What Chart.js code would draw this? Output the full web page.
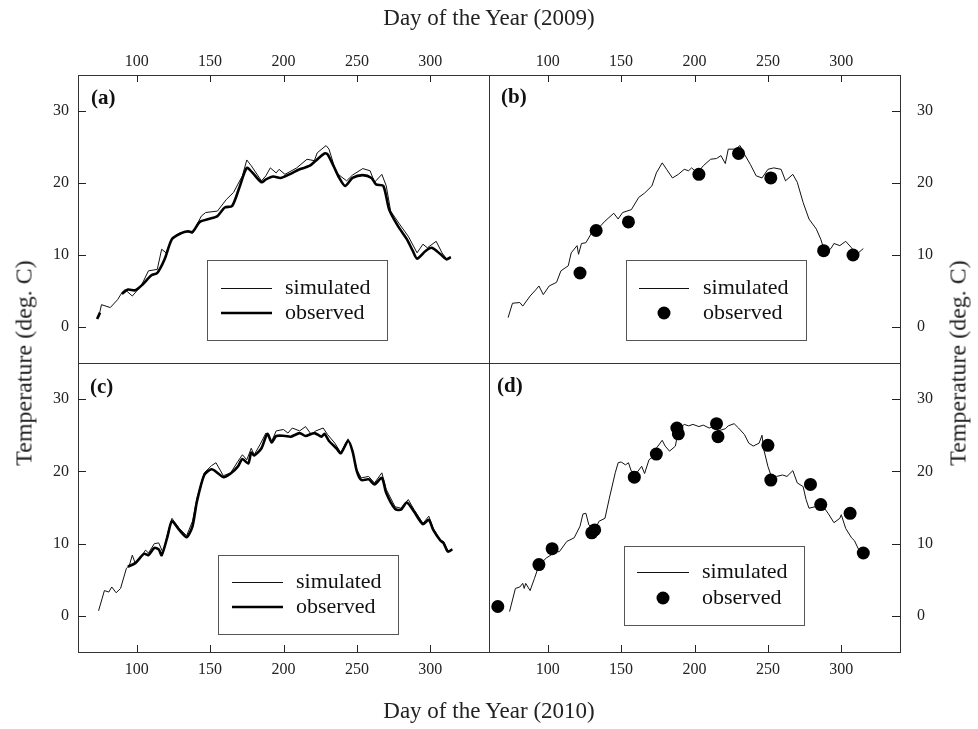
<!DOCTYPE html>
<html lang="en">
<head>
<meta charset="UTF-8">
<title>Simulated and observed temperature, 2009 and 2010</title>
<script src="https://cdn.jsdelivr.net/npm/chart.js"></script>
<style>
    body {
        margin: 0;
        background: #fff;
        font-family: "Liberation Serif", "Times New Roman", serif;
        color: #222;
    }
    #wrap {
        position: relative;
        width: 978px;
        height: 729px;
    }
    #wrap canvas {
        position: absolute;
        left: 0;
        top: 0;
    }
    .title {
        position: absolute;
        font-size: 23px;
        white-space: nowrap;
        transform: translate(-50%, -50%);
    }
    .title.vert {
        font-size: 24px;
        transform: translate(-50%, -50%) rotate(-90deg);
    }
</style>
</head>
<body>

<div id="wrap">
    <canvas id="pa" width="978" height="729"></canvas>
    <canvas id="pb" width="978" height="729"></canvas>
    <canvas id="pc" width="978" height="729"></canvas>
    <canvas id="pd" width="978" height="729"></canvas>
    <div class="title" style="left:489px; top:18px;">Day of the Year (2009)</div>
    <div class="title" style="left:489px; top:711px;">Day of the Year (2010)</div>
    <div class="title vert" style="left:24px; top:363px;">Temperature (deg. C)</div>
    <div class="title vert" style="left:958px; top:363px;">Temperature (deg. C)</div>
</div>

<script>
    // ticks shared by every panel
    const xTicks = [100, 150, 200, 250, 300];
    const yTicks = [0, 10, 20, 30];

    // (a) 2009, daily mean temperature
    const simA_day = [74, 76, 82, 87, 90, 92, 97, 103, 108, 114, 117, 120, 124, 129, 133, 138, 144, 147, 155, 161, 166, 172, 175, 178, 185, 188, 191, 195, 197, 201, 209, 216, 221, 223, 229, 231, 236, 243, 247, 254, 259, 262, 267, 270, 273, 279, 285, 291, 295, 298, 304, 308, 311, 314];
    const simA_t = [1.3, 3.1, 2.7, 3.8, 4.8, 5.2, 4.3, 5.7, 7.8, 8.0, 10.8, 10.3, 12.2, 13.0, 13.3, 13.0, 15.4, 15.9, 16.1, 17.7, 18.7, 21.0, 23.2, 22.4, 20.3, 21.0, 22.1, 21.4, 21.9, 21.2, 22.1, 23.3, 23.1, 24.2, 25.2, 24.7, 21.4, 20.3, 21.1, 22.0, 21.7, 20.1, 21.2, 19.6, 16.1, 14.3, 12.6, 10.3, 11.5, 11.0, 11.9, 10.3, 9.5, 9.7];
    const obsA_day = [73, 75, 83, 90, 94, 99, 104, 110, 114, 119, 124, 130, 135, 138, 143, 149, 155, 160, 165, 170, 175, 179, 185, 188, 193, 198, 204, 211, 218, 222, 228, 230, 234, 238, 242, 247, 254, 260, 263, 268, 272, 278, 284, 288, 291, 297, 301, 307, 311, 314];
    const obsA_t = [1.1, 2.0, null, 4.6, 5.2, 5.1, 5.9, 7.2, 7.5, 9.4, 12.2, 13.0, 13.3, 13.2, 14.6, 15.0, 15.4, 16.6, 16.8, 19.4, 22.1, 21.4, 20.1, 20.5, 20.9, 20.7, 21.2, 21.9, 22.4, 23.1, 24.1, 24.0, 22.4, 20.7, 19.6, 20.7, 21.1, 20.7, 19.8, 19.6, 16.3, 14.0, 12.2, 10.6, 9.5, 10.6, 11.0, 10.1, 9.4, 9.7];

    // (b) 2009, daily maximum temperature against spot readings
    const simB_day = [73, 76, 81, 83, 88, 92, 94, 97, 101, 106, 109, 114, 116, 120, 121, 123, 126, 130, 134, 139, 145, 148, 151, 157, 162, 166, 171, 174, 178, 181, 185, 189, 193, 196, 198, 202, 206, 211, 215, 218, 221, 223, 228, 231, 234, 238, 242, 246, 250, 254, 259, 262, 267, 270, 274, 278, 283, 286, 289, 293, 295, 299, 303, 307, 310, 315];
    const simB_t = [1.3, 3.3, 3.4, 2.9, 4.3, 5.2, 5.7, 4.5, 5.7, 6.2, 7.8, 8.5, 10.3, 11.3, 10.1, 11.6, 11.7, 13.1, 13.6, 14.7, 15.8, 15.0, 15.9, 16.3, 18.0, 18.6, 19.6, 21.4, 22.8, 21.9, 20.7, 21.2, 21.9, 21.7, 22.1, 21.4, 22.4, 23.3, 23.4, 23.8, 22.7, 24.7, 24.7, 25.2, 24.0, 22.6, 21.0, 20.7, 21.9, 22.1, 21.9, 20.3, 21.2, 20.1, 17.3, 15.0, 13.6, 12.2, 10.3, 10.9, 11.6, 11.3, 11.9, 11.0, 10.0, 10.9];
    const obsB_day = [122, 133, 155, 203, 230, 252, 288, 308];
    const obsB_t = [7.5, 13.4, 14.6, 21.2, 24.1, 20.7, 10.6, 10.0];

    // (c) 2010, daily mean temperature
    const simC_day = [74, 78, 81, 83, 86, 89, 93, 95, 97, 99, 103, 106, 108, 112, 115, 118, 121, 124, 129, 134, 138, 141, 146, 151, 154, 159, 164, 169, 172, 175, 178, 180, 184, 188, 192, 195, 200, 203, 206, 211, 215, 219, 222, 227, 230, 235, 239, 244, 246, 250, 253, 258, 262, 267, 270, 276, 280, 285, 289, 295, 299, 302, 307, 309, 312, 315];
    const simC_t = [0.7, 3.5, 3.3, 4.0, 3.2, 3.8, 6.6, 7.0, 8.4, 7.3, 8.2, 9.1, 8.7, 10.0, 10.1, 8.7, 11.4, 13.5, 12.1, 11.1, 13.1, 16.3, 19.8, 20.8, 21.2, 19.4, 19.8, 21.4, 22.3, 21.6, 23.2, 22.3, 23.7, 25.3, 24.2, 25.6, 25.8, 25.3, 26.0, 25.6, 26.2, 25.1, 25.6, 26.0, 25.1, 23.9, 22.6, 24.5, 23.5, 20.2, 19.1, 19.3, 18.4, 19.8, 17.5, 15.1, 14.9, 16.1, 14.7, 12.8, 13.8, 12.1, 10.5, 10.3, 9.0, 9.2];
    const obsC_day = [94, 99, 105, 108, 112, 115, 117, 121, 124, 129, 134, 138, 141, 146, 151, 155, 159, 164, 169, 172, 176, 178, 180, 185, 189, 192, 195, 201, 205, 211, 215, 221, 226, 228, 231, 236, 239, 244, 247, 250, 253, 258, 262, 267, 270, 276, 280, 284, 289, 295, 299, 302, 307, 309, 312, 315];
    const obsC_t = [6.8, 7.3, 8.6, 8.4, 9.4, 9.2, 8.4, 11.0, 13.1, 11.9, 10.9, 12.4, 15.8, 19.5, 20.3, 19.8, 19.2, 19.7, 20.7, 21.7, 21.1, 22.6, 22.2, 23.2, 25.2, 24.0, 24.9, 24.9, 24.8, 25.3, 24.9, 25.3, 24.8, 25.2, 24.2, 23.2, 22.5, 24.2, 22.8, 20.0, 18.8, 18.9, 18.2, 19.1, 17.0, 14.8, 14.7, 15.7, 14.4, 12.7, 13.3, 11.9, 10.4, 10.1, 8.9, 9.2];

    // (d) 2010, daily maximum temperature against spot readings
    const simD_day = [74, 78, 81, 83, 84, 85, 88, 91, 94, 99, 105, 108, 113, 118, 122, 124, 126, 128, 132, 135, 139, 142, 146, 148, 150, 153, 155, 157, 161, 164, 166, 169, 172, 174, 178, 180, 183, 187, 189, 193, 196, 199, 203, 206, 210, 213, 216, 221, 223, 227, 230, 234, 237, 240, 244, 246, 247, 250, 252, 256, 260, 263, 267, 270, 274, 276, 278, 282, 286, 291, 295, 299, 300, 303, 307, 309, 312];
    const simD_t = [0.6, 3.8, 4.0, 4.5, 3.8, 4.5, 3.5, 5.2, 7.0, 8.0, 8.8, 8.9, 10.3, 10.8, 12.4, 14.1, 14.2, 12.6, 11.9, 13.1, 13.5, 16.3, 19.8, 21.2, 21.3, 20.9, 21.2, 20.0, 19.9, 20.7, 19.7, 21.6, 22.1, 23.2, 24.3, 23.5, 22.8, 23.5, 25.8, 26.5, 26.3, 26.5, 26.2, 26.4, 26.0, 26.2, 25.6, 25.9, 26.3, 26.6, 26.0, 25.1, 23.9, 23.5, 23.9, 25.0, 23.2, 20.7, 19.5, 19.3, 19.5, 19.3, 20.1, 18.4, 17.9, 16.1, 14.9, 15.1, 15.6, 14.2, 12.9, 13.5, 14.0, 12.1, 10.8, 10.4, 9.1];
    const obsD_day = [66, 94, 103, 130, 132, 159, 174, 188, 189, 215, 216, 250, 252, 279, 286, 306, 315];
    const obsD_t = [1.3, 7.1, 9.3, 11.5, 11.9, 19.2, 22.4, 26.0, 25.2, 26.6, 24.8, 23.6, 18.8, 18.2, 15.4, 14.2, 8.7];

    const FONT = '"Liberation Serif", "Times New Roman", serif';
    const CW = 978, CH = 729;

    function pts(days, temps) {
        return days.map((d, i) => ({ x: d, y: temps[i] }));
    }

    function simulated(days, temps) {
        return {
            label: 'simulated', data: pts(days, temps),
            borderColor: '#111', borderWidth: 1, pointRadius: 0, tension: 0
        };
    }
    function observedLine(days, temps) {
        return {
            label: 'observed', data: pts(days, temps),
            borderColor: '#000', borderWidth: 2.6, pointRadius: 0, tension: 0.25, spanGaps: false
        };
    }
    function observedDots(days, temps) {
        return {
            label: 'observed', data: pts(days, temps), showLine: false,
            pointRadius: 6.5, pointBackgroundColor: '#000', pointBorderWidth: 0
        };
    }

    // frame, inward tick marks, panel letter and boxed legend
    const decor = {
        id: 'decor',
        afterDraw(chart, args, o) {
            const ctx = chart.ctx;
            const a = chart.chartArea;
            const sx = chart.scales.x, sy = chart.scales.y;
            ctx.save();
            ctx.strokeStyle = '#333';
            ctx.lineWidth = 1;
            ctx.strokeRect(a.left + 0.5, a.top + 0.5, a.right - a.left, a.bottom - a.top);

            ctx.strokeStyle = '#222';
            ctx.beginPath();
            o.tickSides.forEach(side => {
                if (side === 'top' || side === 'bottom') {
                    xTicks.forEach(v => {
                        const px = Math.round(sx.getPixelForValue(v)) + 0.5;
                        const y0 = side === 'top' ? a.top : a.bottom;
                        const dy = side === 'top' ? 7 : -7;
                        ctx.moveTo(px, y0); ctx.lineTo(px, y0 + dy);
                    });
                } else {
                    yTicks.forEach(v => {
                        const py = Math.round(sy.getPixelForValue(v)) + 0.5;
                        const x0 = side === 'left' ? a.left : a.right;
                        const dx = side === 'left' ? 8 : -8;
                        ctx.moveTo(x0, py); ctx.lineTo(x0 + dx, py);
                    });
                }
            });
            ctx.stroke();

            ctx.fillStyle = '#111';
            ctx.font = 'bold 21px ' + FONT;
            ctx.textBaseline = 'middle';
            ctx.textAlign = 'left';
            ctx.fillText(o.letter, a.left + o.letterAt[0], a.top + o.letterAt[1]);

            const L = o.legend;
            const bx = a.left + L.box[0], by = a.top + L.box[1];
            ctx.strokeStyle = '#555';
            ctx.strokeRect(Math.round(bx) + 0.5, Math.round(by) + 0.5, L.box[2], L.box[3]);

            const sim = chart.data.datasets[1], obs = chart.data.datasets[0];
            const r1 = a.top + L.rows[0], r2 = a.top + L.rows[1];
            ctx.strokeStyle = sim.borderColor;
            ctx.lineWidth = sim.borderWidth;
            ctx.beginPath();
            ctx.moveTo(a.left + L.sample[0], r1 + 0.5); ctx.lineTo(a.left + L.sample[1], r1 + 0.5);
            ctx.stroke();
            if (obs.showLine === false) {
                ctx.fillStyle = obs.pointBackgroundColor;
                ctx.beginPath();
                ctx.arc(a.left + (L.sample[0] + L.sample[1]) / 2, r2, obs.pointRadius, 0, Math.PI * 2);
                ctx.fill();
            } else {
                ctx.strokeStyle = obs.borderColor;
                ctx.lineWidth = obs.borderWidth;
                ctx.beginPath();
                ctx.moveTo(a.left + L.sample[0], r2); ctx.lineTo(a.left + L.sample[1], r2);
                ctx.stroke();
            }
            ctx.fillStyle = '#111';
            ctx.font = '22px ' + FONT;
            ctx.fillText(sim.label, a.left + L.text, r1);
            ctx.fillText(obs.label, a.left + L.text, r2);
            ctx.restore();
        }
    };

    function panel(id, area, xPos, yPos, datasets, deco) {
        const xH = 30, yW = 40;
        const padding = {
            left: area.left - (yPos === 'left' ? yW : 0),
            right: CW - area.right - (yPos === 'right' ? yW : 0),
            top: area.top - (xPos === 'top' ? xH : 0),
            bottom: CH - area.bottom - (xPos === 'bottom' ? xH : 0)
        };
        const tickFont = { family: FONT, size: 16 };
        return new Chart(document.getElementById(id), {
            type: 'line',
            data: { datasets: datasets },
            options: {
                responsive: false,
                animation: false,
                devicePixelRatio: 1,
                events: [],
                layout: { padding: padding },
                scales: {
                    x: {
                        type: 'linear', position: xPos, min: 60, max: 340,
                        afterBuildTicks: s => { s.ticks = xTicks.map(v => ({ value: v })); },
                        afterFit: s => { s.height = xH; },
                        grid: { display: false, drawTicks: false },
                        border: { display: false },
                        ticks: { font: tickFont, color: '#222', padding: xPos === 'top' ? 4 : 8, maxRotation: 0 }
                    },
                    y: {
                        type: 'linear', position: yPos, min: -5, max: 35,
                        afterBuildTicks: s => { s.ticks = yTicks.map(v => ({ value: v })); },
                        afterFit: s => { s.width = yW; },
                        grid: { display: false, drawTicks: false },
                        border: { display: false },
                        ticks: { font: tickFont, color: '#222', padding: yPos === 'left' ? 9 : 17 }
                    }
                },
                plugins: {
                    legend: { display: false },
                    tooltip: { enabled: false },
                    decor: deco
                }
            },
            plugins: [decor]
        });
    }

    panel('pa', { left: 78, top: 75, right: 489, bottom: 363 }, 'top', 'left',
        [observedLine(obsA_day, obsA_t), simulated(simA_day, simA_t)],
        { letter: '(a)', letterAt: [13, 24], tickSides: ['top', 'left'],
          legend: { box: [129, 185, 180, 80], sample: [143, 194], rows: [213, 238], text: 207 } });

    panel('pb', { left: 489, top: 75, right: 900, bottom: 363 }, 'top', 'right',
        [observedDots(obsB_day, obsB_t), simulated(simB_day, simB_t)],
        { letter: '(b)', letterAt: [12, 23], tickSides: ['top', 'right'],
          legend: { box: [137, 185, 180, 80], sample: [150, 200], rows: [213, 238], text: 214 } });

    panel('pc', { left: 78, top: 363, right: 489, bottom: 652 }, 'bottom', 'left',
        [observedLine(obsC_day, obsC_t), simulated(simC_day, simC_t)],
        { letter: '(c)', letterAt: [12, 25], tickSides: ['bottom', 'left'],
          legend: { box: [140, 192, 180, 79], sample: [154, 205], rows: [219, 244], text: 218 } });

    panel('pd', { left: 489, top: 363, right: 900, bottom: 652 }, 'bottom', 'right',
        [observedDots(obsD_day, obsD_t), simulated(simD_day, simD_t)],
        { letter: '(d)', letterAt: [8, 24], tickSides: ['bottom', 'right'],
          legend: { box: [135, 183, 180, 79], sample: [148, 200], rows: [209, 235], text: 213 } });
</script>

</body>
</html>
